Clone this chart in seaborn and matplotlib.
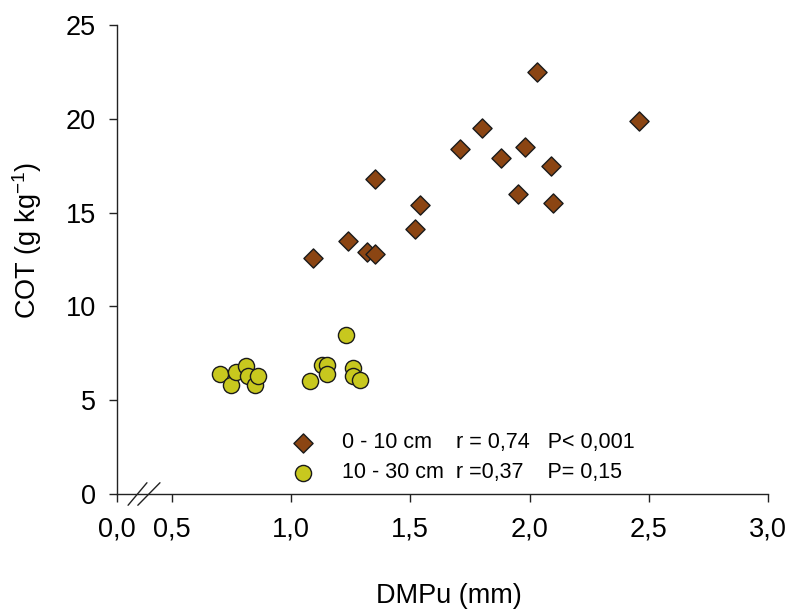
import pandas as pd
import matplotlib
matplotlib.use('Agg')
import matplotlib.pyplot as plt
import seaborn as sns

# DMPu (mm) and COT (g/kg)
dmpu_0_10 = [1.09, 1.24, 1.32, 1.35, 1.35, 1.52, 1.54, 1.71, 1.80, 1.88,
             1.95, 1.98, 2.03, 2.09, 2.10, 2.46]
cot_0_10 = [12.6, 13.5, 12.9, 12.8, 16.8, 14.1, 15.4, 18.4, 19.5, 17.9,
            16.0, 18.5, 22.5, 17.5, 15.5, 19.9]

dmpu_10_30 = [0.70, 0.75, 0.77, 0.81, 0.82, 0.85, 0.86, 1.08, 1.13, 1.15,
              1.15, 1.23, 1.26, 1.26, 1.29]
cot_10_30 = [6.4, 5.8, 6.5, 6.8, 6.3, 5.8, 6.3, 6.0, 6.9, 6.9,
             6.4, 8.5, 6.7, 6.3, 6.1]

labels = ['0 - 10 cm    r = 0,74   P< 0,001',
          '10 - 30 cm  r =0,37    P= 0,15']
xtick_labels = ['0,0', '0,5', '1,0', '1,5', '2,0', '2,5', '3,0']

# left end of the broken x axis (shown as 0,0)
X_BREAK = 0.27

df1 = pd.DataFrame({'DMPu': dmpu_0_10, 'COT': cot_0_10})
df2 = pd.DataFrame({'DMPu': dmpu_10_30, 'COT': cot_10_30})

sns.set_style('ticks')
plt.rcParams['font.family'] = ['Liberation Sans', 'DejaVu Sans']
plt.rcParams['text.color'] = 'black'
plt.rcParams['axes.labelcolor'] = 'black'
plt.rcParams['xtick.color'] = 'black'
plt.rcParams['ytick.color'] = 'black'

fig = plt.figure(figsize=(7.91, 6.16), dpi=100)
ax = fig.add_axes([117 / 791, 122 / 616, 651 / 791, 469 / 616])

sns.scatterplot(data=df1, x='DMPu', y='COT', marker='D', s=95,
                color='#8B4513', edgecolor='#1a1a1a', linewidth=1.0,
                label=labels[0], ax=ax, zorder=3)
sns.scatterplot(data=df2, x='DMPu', y='COT', marker='o', s=135,
                color='#C8C81E', edgecolor='#1a1a1a', linewidth=1.0,
                label=labels[1], ax=ax, zorder=3)

ax.set_xlim(X_BREAK, 3.0)
ax.set_ylim(0, 25)
ax.set_xticks([X_BREAK, 0.5, 1.0, 1.5, 2.0, 2.5, 3.0])
ax.set_xticklabels(xtick_labels)
ax.set_yticks([0, 5, 10, 15, 20, 25])
ax.tick_params(axis='both', labelsize=19.5, length=6, width=1,
               color='#222222', labelcolor='black')
ax.tick_params(axis='x', pad=10)
ax.tick_params(axis='y', pad=9)
sns.despine(ax=ax)
for side in ['left', 'bottom']:
    ax.spines[side].set_linewidth(1)
    ax.spines[side].set_color('#222222')

ax.set_xlabel('DMPu (mm)', fontsize=19.5)
ax.set_ylabel('COT (g kg$^{\\mathregular{-1}}$)', fontsize=19.5)
ax.xaxis.set_label_coords(0.51, -0.19)
ax.yaxis.set_label_coords(-0.112, 0.54)

# axis break marks
for x0, x1 in [(0.017, 0.046), (0.032, 0.066)]:
    ax.plot([x0, x1], [-0.024, 0.024], transform=ax.transAxes,
            color='#222222', lw=1, clip_on=False)

ax.legend(loc='upper left', bbox_to_anchor=(0.24, 0.15), frameon=False,
          fontsize=15.5, handletextpad=0.8, labelspacing=0.42, borderaxespad=0)

plt.savefig('out.png', dpi=100)
